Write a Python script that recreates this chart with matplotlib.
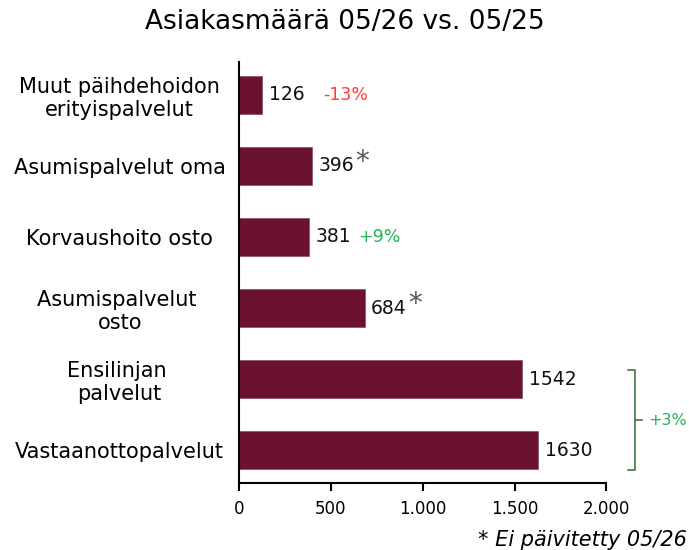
import matplotlib.pyplot as plt

# data (top to bottom as drawn)
categories = ['Muut päihdehoidon\nerityispalvelut', 'Asumispalvelut oma', 'Korvaushoito osto',
              'Asumispalvelut \nosto', 'Ensilinjan \npalvelut', 'Vastaanottopalvelut']
values = [126, 396, 381, 684, 1542, 1630]
changes = ['-13%', '', '+9%', '', '', '']
not_updated = [False, True, False, True, False, False]
group_change = '+3%'
tick_vals = [0, 500, 1000, 1500, 2000]
tick_labels = ['0', '500', '1.000', '1.500', '2.000']

bar_color = '#6b1230'
red = '#ff3b3b'
green = '#1fb552'

fig = plt.figure(figsize=(6.89, 5.5), dpi=100)
ax = fig.add_axes([0.347, 0.122, 0.533, 0.765])

y = list(range(len(values)))[::-1]
ax.barh(y, values, height=0.54, color=bar_color, edgecolor='#8a4a60', linewidth=0.5)

for yi, v, ch, star in zip(y, values, changes, not_updated):
    ax.text(v + 35, yi, str(v), va='center', ha='left', fontsize=13.5, color='#111111')
    if star:
        ax.annotate('*', xy=(v + 35, yi), xytext=(len(str(v)) * 8.6 + 1, 3),
                    textcoords='offset points', fontsize=20, color='#555555',
                    va='center', ha='left')
    if ch:
        off = 39 if ch.startswith('-') else 31
        ax.annotate(ch, xy=(v + 35, yi), xytext=(off, 0), textcoords='offset points',
                    fontsize=12.5, color=red if ch.startswith('-') else green,
                    va='center', ha='left')

ax.set_yticks(y)
ax.set_yticklabels(categories, fontsize=15, ha='center')
ax.tick_params(axis='y', length=0, pad=86)
ax.set_xticks(tick_vals)
ax.set_xticklabels(tick_labels, fontsize=12)
ax.tick_params(axis='x', direction='out', length=6, width=1.5, pad=6)
ax.set_xlim(0, 2000)
ax.set_ylim(-0.46, len(values) - 0.54)
for s in ['top', 'right']:
    ax.spines[s].set_visible(False)
for s in ['left', 'bottom']:
    ax.spines[s].set_linewidth(1.5)

# bracket for the two lowest bars
bx = 2158
ax.plot([bx - 38, bx, bx, bx - 38], [1.13, 1.13, -0.28, -0.28], color='#3b7a3b',
        lw=1.2, clip_on=False)
ax.plot([bx, bx + 38], [0.42, 0.42], color='#3b7a3b', lw=1.2, clip_on=False)
ax.text(bx + 72, 0.42, group_change, fontsize=11.5, color=green, va='center', ha='left')

fig.text(0.5, 0.96, 'Asiakasmäärä 05/26 vs. 05/25', ha='center', va='center', fontsize=19)
fig.text(0.997, 0.018, '* Ei päivitetty 05/26', ha='right', va='center',
         fontsize=15, style='italic')

fig.savefig('out.png', dpi=100)
